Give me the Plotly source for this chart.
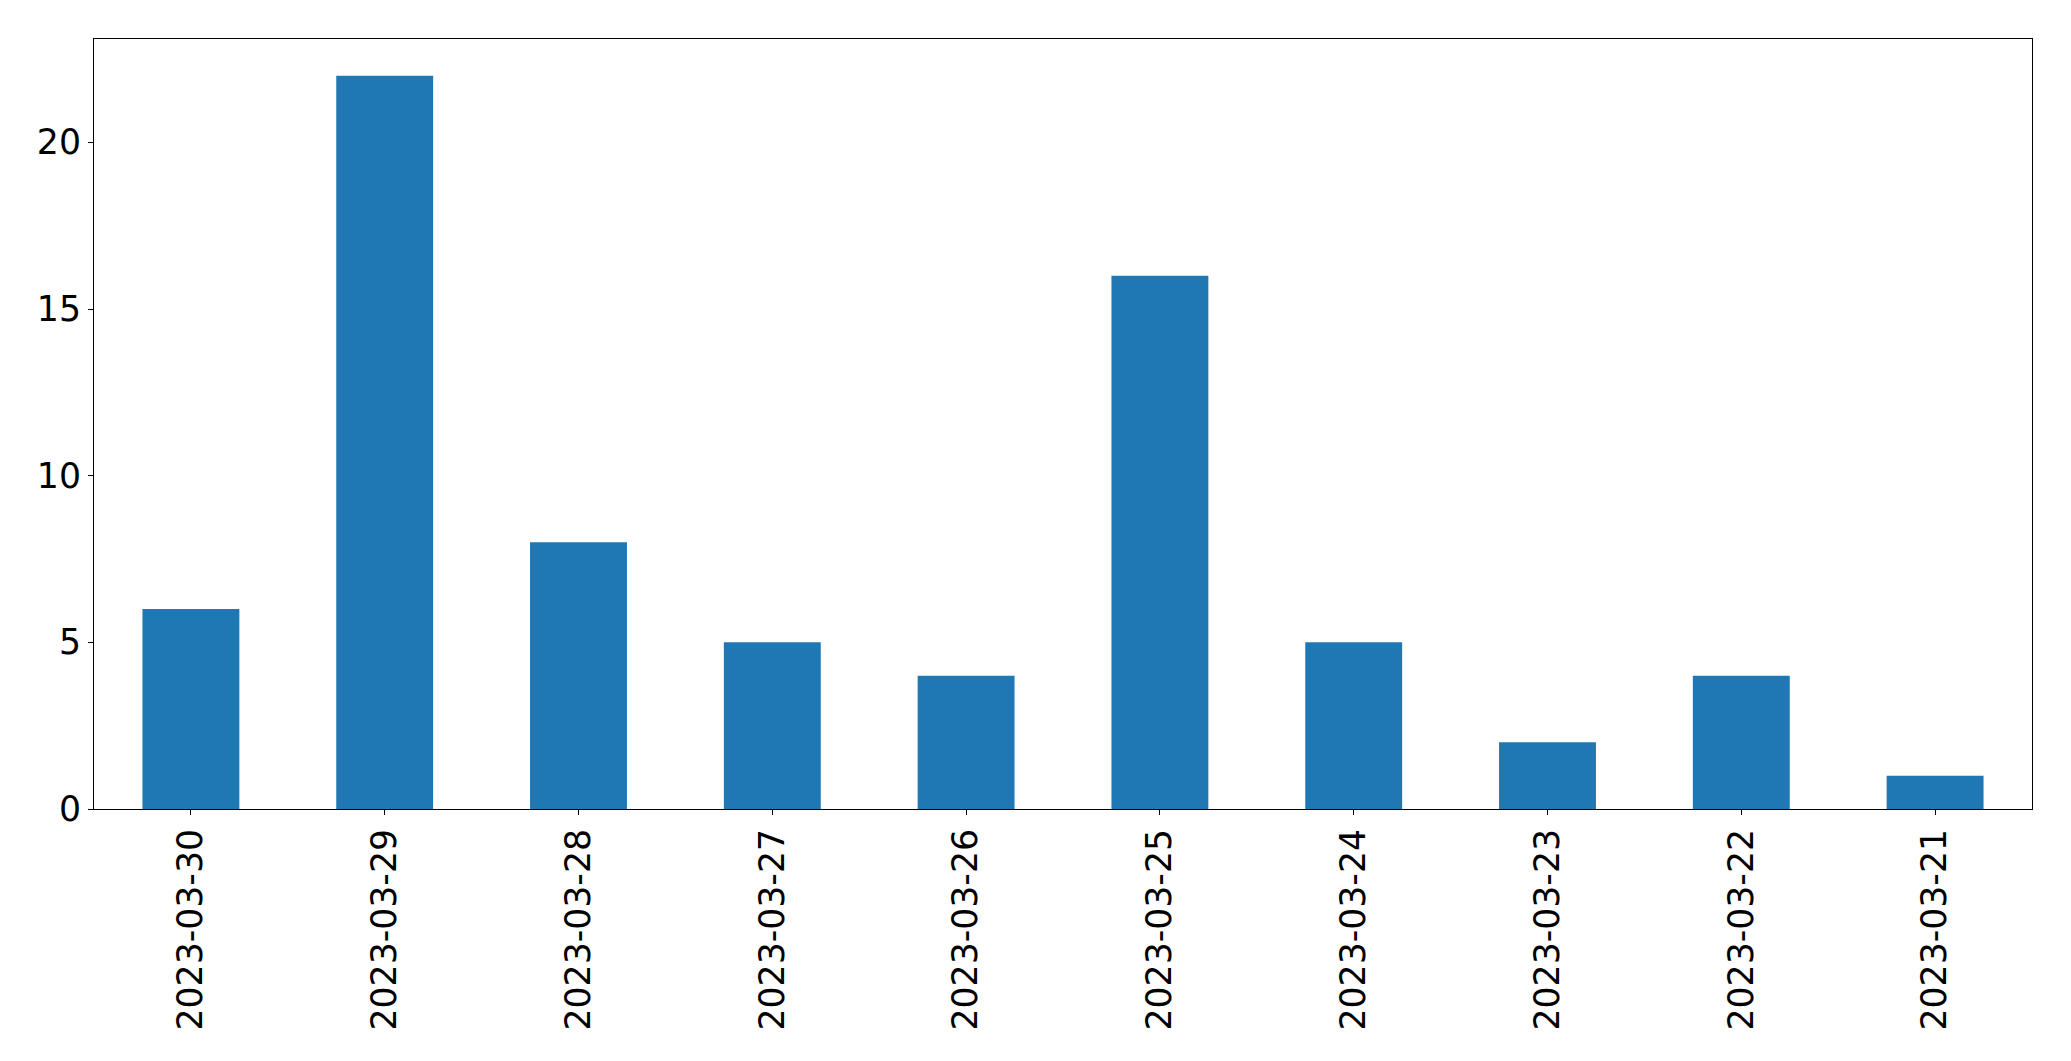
import plotly.graph_objects as go

dates = ["2023-03-30", "2023-03-29", "2023-03-28", "2023-03-27", "2023-03-26",
         "2023-03-25", "2023-03-24", "2023-03-23", "2023-03-22", "2023-03-21"]
counts = [6, 22, 8, 5, 4, 16, 5, 2, 4, 1]
y_ticks = [0, 5, 10, 15, 20]

fig = go.Figure(go.Bar(x=dates, y=counts, marker_color="#1f77b4",
                       marker_line_width=0, width=0.5))

font = dict(family="DejaVu Sans", size=34.7, color="black")
fig.update_layout(
    width=2063, height=1053,
    margin=dict(l=86, r=39, t=31, b=252),
    paper_bgcolor="white", plot_bgcolor="white",
    font=font, showlegend=False,
)
fig.update_xaxes(type="category", range=[-0.5, 9.5], tickangle=-90,
                 showline=True, linecolor="black", linewidth=1.2, mirror=True,
                 ticks="outside", ticklen=5, tickwidth=1.2, tickcolor="black",
                 showgrid=False, tickfont=font)
fig.update_yaxes(range=[0, 23.1], tickvals=y_ticks,
                 showline=True, linecolor="black", linewidth=1.2, mirror=True,
                 ticks="outside", ticklen=5, tickwidth=1.2, tickcolor="black",
                 showgrid=False, zeroline=False, tickfont=font)

fig.write_html("out.html")
